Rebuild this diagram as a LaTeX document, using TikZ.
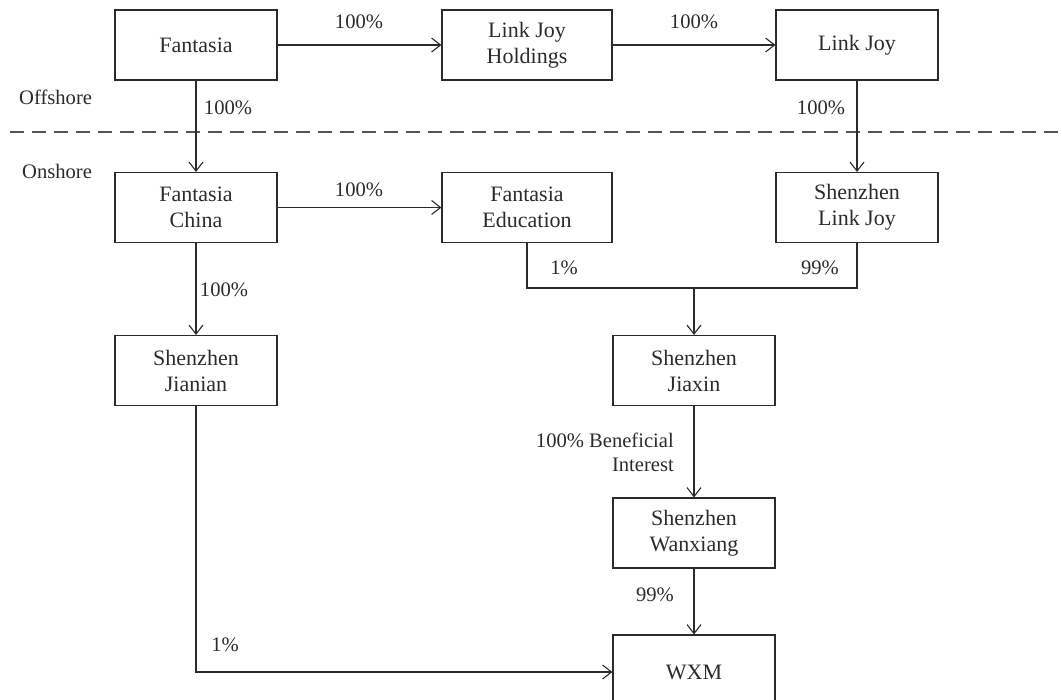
\documentclass[tikz,border=0pt]{standalone}
\usepackage{fontspec}
\setmainfont{Liberation Serif}
\usetikzlibrary{arrows.meta,calc}
\definecolor{ink}{HTML}{2B2B2B}
\tikzset{
  box/.style={draw=ink, line width=1.1pt, rectangle, minimum width=162pt, minimum height=70pt,
    align=center, inner sep=0pt, text=ink, font=\fontsize{22}{26}\selectfont},
  wbox/.style={box, minimum width=170pt},
  conn/.style={draw=ink, line width=1.1pt},
  arr/.style={conn, -{Straight Barb[length=9pt,width=14pt,line width=1.1pt]}},
  lbl/.style={text=ink, inner sep=0pt, font=\fontsize{20.6}{24}\selectfont, align=right},
  sep/.style={draw=ink!80, line width=1.1pt, dash pattern=on 14pt off 8pt}
}
\begin{document}
\begin{tikzpicture}[x=1pt,y=-1pt]
\useasboundingbox (0,0) rectangle (1062,700);
% boxes
\node[box]  (fan) at (196,45)    {Fantasia};
\node[wbox] (ljh) at (527,45)    {Link Joy\\Holdings};
\node[box]  (lj)  at (857,45)    {Link Joy};
\node[box]  (fc)  at (196,207.5) {Fantasia\\China};
\node[wbox] (fe)  at (527,207.5) {Fantasia\\Education};
\node[box]  (slj) at (857,207.5) {Shenzhen\\Link Joy};
\node[box]  (sjn) at (196,370.5) {Shenzhen\\Jianian};
\node[box]  (sjx) at (694,370.5) {Shenzhen\\Jiaxin};
\node[box]  (swx) at (694,533)   {Shenzhen\\Wanxiang};
\node[box, minimum height=74pt] (wxm) at (694,672) {WXM};
% separator
\coordinate (dl) at (10,132);
\coordinate (dr) at (1062,132);
\draw[sep] (dl) -- (dr);
\node[lbl, anchor=west] (off) at (19,97)  {Offshore};
\node[lbl, anchor=west] (on)  at (22,171) {Onshore};
% connectors
\draw[arr] (fan.east) -- (ljh.west);
\node[lbl] (l1) at (359,22) {100\%};
\draw[arr] (ljh.east) -- (lj.west);
\node[lbl] (l2) at (694,22) {100\%};
\draw[arr] (fan.south) -- (fc.north);
\node[lbl] (l3) at (228,108) {100\%};
\draw[arr] (lj.south) -- (slj.north);
\node[lbl] (l4) at (821,108) {100\%};
\draw[arr] (fc.east) -- (fe.west);
\node[lbl] (l5) at (359,190) {100\%};
\draw[arr] (fc.south) -- (sjn.north);
\node[lbl] (l6) at (224,290) {100\%};
\coordinate (j) at (694,288);
\draw[conn] (fe.south) -- (fe.south |- j) -- (slj.south |- j) -- (slj.south);
\draw[arr] (j) -- (sjx.north);
\node[lbl] (l7) at (564,268) {1\%};
\node[lbl] (l8) at (820,268) {99\%};
\draw[arr] (sjx.south) -- (swx.north);
\node[lbl, anchor=east] (l9) at (674,452) {100\% Beneficial\\Interest};
\draw[arr] (swx.south) -- (wxm.north);
\node[lbl] (l10) at (655,595) {99\%};
\draw[arr] (sjn.south) -- (sjn.south |- wxm.west) -- (wxm.west);
\node[lbl] (l11) at (225,645) {1\%};
\end{tikzpicture}
\end{document}
